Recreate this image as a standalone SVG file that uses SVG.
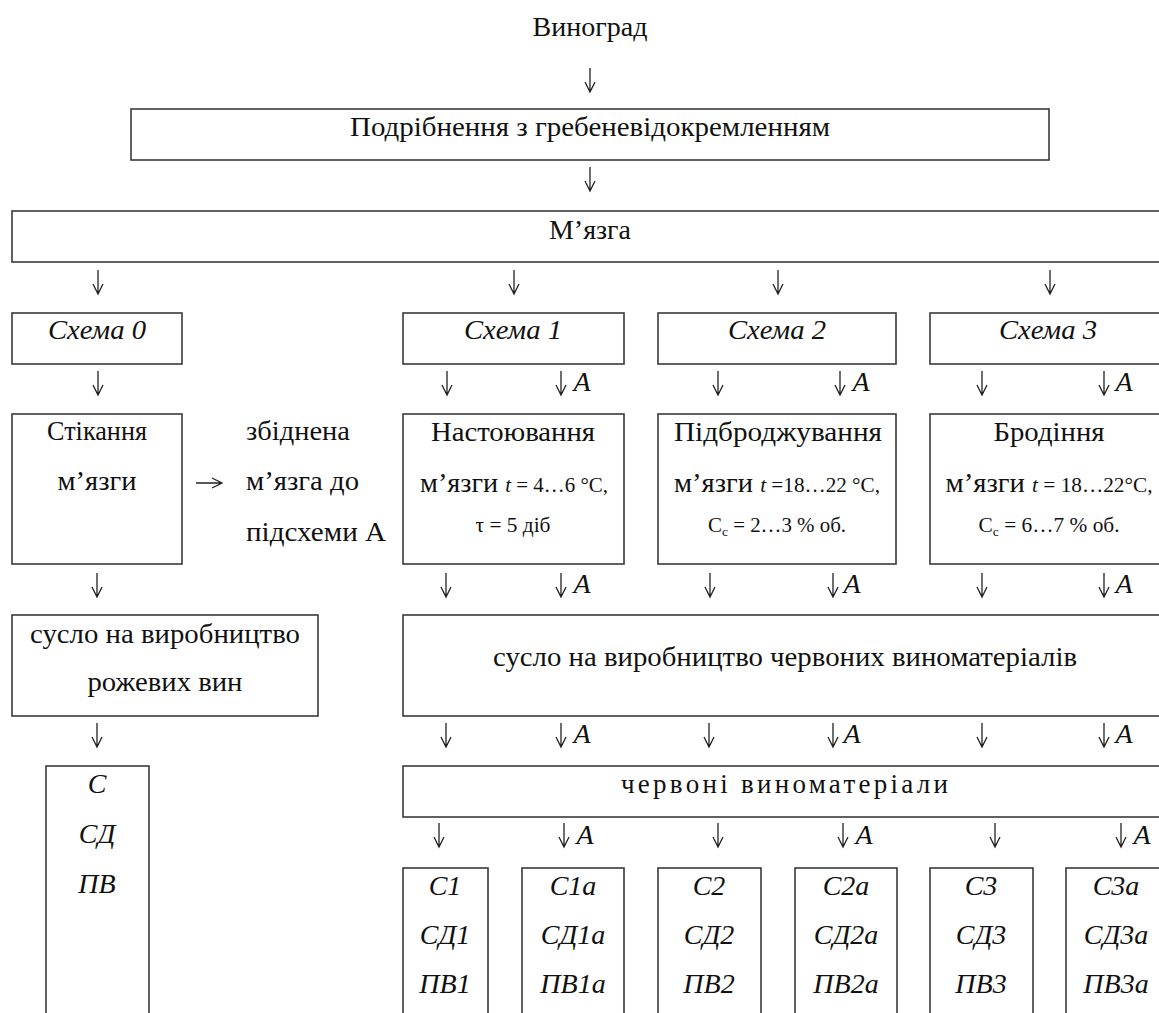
<svg xmlns="http://www.w3.org/2000/svg" width="1159" height="1013" viewBox="0 0 1159 1013">
<style>
text{font-family:'Liberation Serif',Tinos,'DejaVu Serif',serif;font-size:27px;fill:#111;text-anchor:middle}
.l{text-anchor:start}
.i{font-style:italic;font-size:28px}
.s{font-size:20px}
.b{fill:none;stroke:#3a3a3a;stroke-width:1.6}
.ar{fill:none;stroke:#222;stroke-width:1.3}
</style>
<defs>
<path id="ar" class="ar" d="M0,0 V24 M-5,14 L0,24 L5,14"/>
</defs>
<rect width="1159" height="1013" fill="#fff"/>

<g id="connectors">
<use href="#ar" x="590" y="68"/>
<use href="#ar" x="590" y="167"/>
<use href="#ar" x="98" y="270"/>
<use href="#ar" x="514" y="270"/>
<use href="#ar" x="778" y="270"/>
<use href="#ar" x="1050" y="270"/>
<use href="#ar" x="98" y="371"/>
<use href="#ar" x="447" y="371"/>
<use href="#ar" x="561" y="371"/>
<use href="#ar" x="718" y="371"/>
<use href="#ar" x="840" y="371"/>
<use href="#ar" x="982" y="371"/>
<use href="#ar" x="1104" y="371"/>
<path class="ar" d="M196,483 H222 M212,478 L222,483 L212,488"/>
<use href="#ar" x="97" y="573"/>
<use href="#ar" x="446" y="573"/>
<use href="#ar" x="561" y="573"/>
<use href="#ar" x="710" y="573"/>
<use href="#ar" x="833" y="573"/>
<use href="#ar" x="982" y="573"/>
<use href="#ar" x="1104" y="573"/>
<use href="#ar" x="97" y="723"/>
<use href="#ar" x="446" y="723"/>
<use href="#ar" x="561" y="723"/>
<use href="#ar" x="709" y="723"/>
<use href="#ar" x="833" y="723"/>
<use href="#ar" x="982" y="723"/>
<use href="#ar" x="1104" y="723"/>
<use href="#ar" x="439" y="823"/>
<use href="#ar" x="564" y="823"/>
<use href="#ar" x="718" y="823"/>
<use href="#ar" x="843" y="823"/>
<use href="#ar" x="995" y="823"/>
<use href="#ar" x="1121" y="823"/>
<g id="a-labels">
<text x="582" y="391" class="i">A</text>
<text x="861" y="391" class="i">A</text>
<text x="1124" y="391" class="i">A</text>
<text x="582" y="593" class="i">A</text>
<text x="852" y="593" class="i">A</text>
<text x="1124" y="593" class="i">A</text>
<text x="582" y="743" class="i">A</text>
<text x="852" y="743" class="i">A</text>
<text x="1124" y="743" class="i">A</text>
<text x="585" y="844" class="i">A</text>
<text x="864" y="844" class="i">A</text>
<text x="1142" y="844" class="i">A</text>
</g>
</g>

<g id="n-grape"><text x="590" y="36" textLength="115" lengthAdjust="spacingAndGlyphs">Виноград</text></g>
<g id="n-crush"><rect class="b" x="131" y="109" width="918" height="51"/><text x="590" y="136" textLength="480" lengthAdjust="spacingAndGlyphs">Подрібнення з гребеневідокремленням</text></g>
<g id="n-pulp"><rect class="b" x="12" y="211" width="1160" height="51"/><text x="590" y="239" textLength="82" lengthAdjust="spacingAndGlyphs">М’язга</text></g>

<g id="n-s0"><rect class="b" x="12" y="313" width="170" height="51"/><text x="97" y="339" class="i" textLength="98" lengthAdjust="spacingAndGlyphs">Схема 0</text></g>
<g id="n-s1"><rect class="b" x="403" y="313" width="221" height="51"/><text x="513" y="339" class="i" textLength="98" lengthAdjust="spacingAndGlyphs">Схема 1</text></g>
<g id="n-s2"><rect class="b" x="658" y="313" width="238" height="51"/><text x="777" y="339" class="i" textLength="98" lengthAdjust="spacingAndGlyphs">Схема 2</text></g>
<g id="n-s3"><rect class="b" x="930" y="313" width="240" height="51"/><text x="1048" y="339" class="i" textLength="98" lengthAdjust="spacingAndGlyphs">Схема 3</text></g>

<g id="n-drain"><rect class="b" x="12" y="414" width="170" height="150"/><text x="97" y="440" textLength="100" lengthAdjust="spacingAndGlyphs">Стікання</text><text x="97" y="490" textLength="79" lengthAdjust="spacingAndGlyphs">м’язги</text></g>
<g id="n-depleted"><text x="246" y="440" class="l" textLength="104" lengthAdjust="spacingAndGlyphs">збіднена</text><text x="246" y="490" class="l" textLength="113" lengthAdjust="spacingAndGlyphs">м’язга до</text><text x="246" y="541" class="l" textLength="140" lengthAdjust="spacingAndGlyphs">підсхеми А</text></g>
<g id="n-infuse"><rect class="b" x="403" y="414" width="221" height="150"/><text x="513" y="441" textLength="164" lengthAdjust="spacingAndGlyphs">Настоювання</text><text x="514" y="492" textLength="188" lengthAdjust="spacingAndGlyphs">м’язги <tspan class="s"><tspan font-style="italic">t</tspan> = 4…6 °С,</tspan></text><text x="513" y="532" class="s" textLength="75" lengthAdjust="spacingAndGlyphs">τ = 5 діб</text></g>
<g id="n-prefer"><rect class="b" x="658" y="414" width="238" height="150"/><text x="778" y="441" textLength="208" lengthAdjust="spacingAndGlyphs">Підброджування</text><text x="777" y="492" textLength="206" lengthAdjust="spacingAndGlyphs">м’язги <tspan class="s"><tspan font-style="italic">t</tspan> =18…22 °С,</tspan></text><text x="777" y="532" class="s" textLength="138" lengthAdjust="spacingAndGlyphs">С<tspan font-size="13" dy="4">с</tspan><tspan dy="-4"> = 2…3 % об.</tspan></text></g>
<g id="n-ferm"><rect class="b" x="930" y="414" width="240" height="150"/><text x="1049" y="441" textLength="111" lengthAdjust="spacingAndGlyphs">Бродіння</text><text x="1049" y="492" textLength="207" lengthAdjust="spacingAndGlyphs">м’язги <tspan class="s"><tspan font-style="italic">t</tspan> = 18…22°С,</tspan></text><text x="1049" y="532" class="s" textLength="141" lengthAdjust="spacingAndGlyphs">С<tspan font-size="13" dy="4">с</tspan><tspan dy="-4"> = 6…7 % об.</tspan></text></g>

<g id="n-rose-must"><rect class="b" x="12" y="615" width="306" height="101"/><text x="165" y="643" textLength="270" lengthAdjust="spacingAndGlyphs">сусло на виробництво</text><text x="165" y="691" textLength="155" lengthAdjust="spacingAndGlyphs">рожевих вин</text></g>
<g id="n-red-must"><rect class="b" x="403" y="615" width="770" height="101"/><text x="785" y="666" textLength="584" lengthAdjust="spacingAndGlyphs">сусло на виробництво червоних виноматеріалів</text></g>
<g id="n-red-wine"><rect class="b" x="403" y="766" width="770" height="51"/><text x="621" y="793" class="l" textLength="327" lengthAdjust="spacing">червоні виноматеріали</text></g>

<g id="n-r0"><rect class="b" x="46" y="766" width="103" height="260"/><text x="97" y="793" class="i">С</text><text x="97" y="843" class="i">СД</text><text x="97" y="893" class="i">ПВ</text></g>
<g id="n-r1"><rect class="b" x="403" y="868" width="85" height="160"/><text x="445" y="895" class="i">С1</text><text x="445" y="944" class="i">СД1</text><text x="445" y="993" class="i">ПВ1</text></g>
<g id="n-r1a"><rect class="b" x="522" y="868" width="102" height="160"/><text x="573" y="895" class="i">С1а</text><text x="573" y="944" class="i">СД1а</text><text x="573" y="993" class="i">ПВ1а</text></g>
<g id="n-r2"><rect class="b" x="658" y="868" width="103" height="160"/><text x="709" y="895" class="i">С2</text><text x="709" y="944" class="i">СД2</text><text x="709" y="993" class="i">ПВ2</text></g>
<g id="n-r2a"><rect class="b" x="795" y="868" width="102" height="160"/><text x="846" y="895" class="i">С2а</text><text x="846" y="944" class="i">СД2а</text><text x="846" y="993" class="i">ПВ2а</text></g>
<g id="n-r3"><rect class="b" x="930" y="868" width="103" height="160"/><text x="981" y="895" class="i">С3</text><text x="981" y="944" class="i">СД3</text><text x="981" y="993" class="i">ПВ3</text></g>
<g id="n-r3a"><rect class="b" x="1066" y="868" width="103" height="160"/><text x="1116" y="895" class="i">С3а</text><text x="1116" y="944" class="i">СД3а</text><text x="1116" y="993" class="i">ПВ3а</text></g>
</svg>
